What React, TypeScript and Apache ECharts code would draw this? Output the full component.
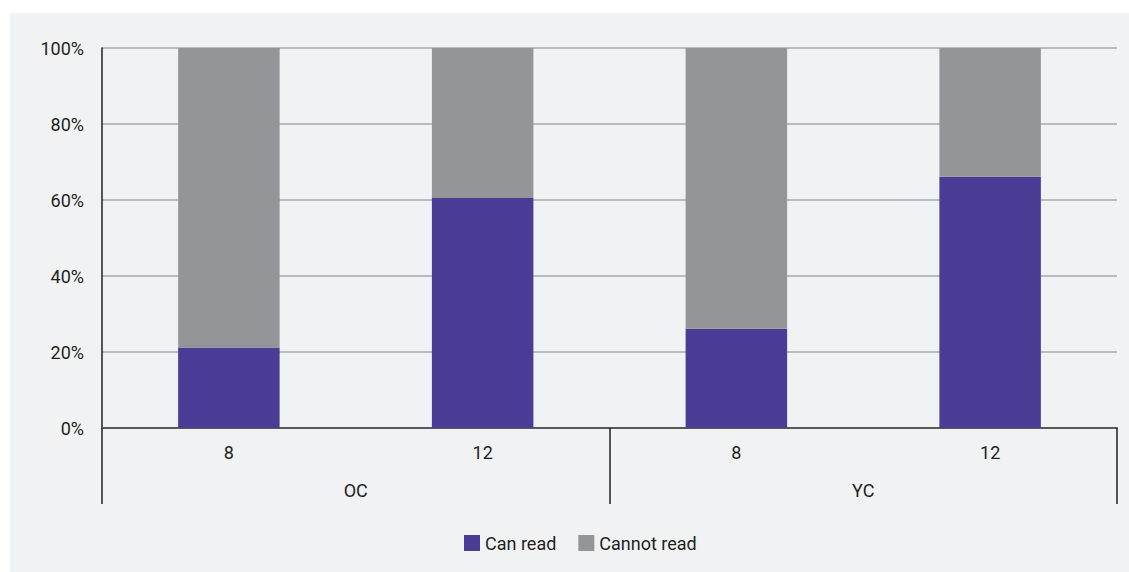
import React, { useEffect, useRef } from "react";
import * as echarts from "echarts";

const ageLabels = ["8", "12", "8", "12"];
const groupLabels = ["OC", "YC"];
const canRead = [21.2, 60.5, 26.1, 66.1];
const cannotRead = [78.8, 39.5, 73.9, 33.9];
const yTicks = [0, 20, 40, 60, 80, 100];

const FONT = "Roboto, 'Liberation Sans', sans-serif";

export default function App() {
  const ref = useRef<HTMLDivElement>(null);
  useEffect(() => {
    if (!ref.current) return;
    const chart = echarts.init(ref.current, undefined, { renderer: "svg" });
    chart.setOption({
      animation: false,
      backgroundColor: "#ffffff",
      graphic: [
        {
          type: "rect",
          z: -10,
          silent: true,
          shape: { x: 10, y: 13, width: 1119, height: 559 },
          style: { fill: "#f1f2f4" },
        },
      ],
      textStyle: { fontFamily: FONT },
      grid: { left: 102, top: 48, right: 12, bottom: 144 },
      legend: {
        left: 459,
        top: 529,
        itemWidth: 16,
        itemHeight: 16,
        itemGap: 22,
        icon: "rect",
        textStyle: { fontFamily: FONT, fontSize: 18, color: "#231f20" },
        data: ["Can read", "Cannot read"],
      },
      xAxis: [
        {
          type: "category",
          data: ageLabels,
          position: "bottom",
          axisLine: { show: true, lineStyle: { color: "#58595b", width: 2 } },
          axisTick: { show: false },
          axisLabel: { margin: 15, fontSize: 18, color: "#231f20", fontFamily: FONT },
        },
        {
          type: "category",
          data: groupLabels,
          position: "bottom",
          offset: 0,
          axisLine: { show: false },
          axisTick: { show: true, length: 76, lineStyle: { color: "#231f20", width: 1.5 } },
          axisLabel: { margin: 53, fontSize: 18, color: "#231f20", fontFamily: FONT },
        },
      ],
      yAxis: {
        type: "value",
        min: yTicks[0],
        max: yTicks[yTicks.length - 1],
        interval: 20,
        axisLine: { show: true, lineStyle: { color: "#231f20", width: 1.5 } },
        axisTick: { show: false },
        axisLabel: {
          margin: 18,
          fontSize: 18,
          color: "#231f20",
          fontFamily: FONT,
          formatter: "{value}%",
        },
        splitLine: { show: true, lineStyle: { color: "#a7a9ac", width: 1.5 } },
      },
      series: [
        {
          name: "Can read",
          type: "bar",
          stack: "total",
          xAxisIndex: 0,
          barWidth: "40%",
          itemStyle: { color: "#4b3c96" },
          data: canRead,
        },
        {
          name: "Cannot read",
          type: "bar",
          stack: "total",
          xAxisIndex: 0,
          barWidth: "40%",
          itemStyle: { color: "#939598" },
          data: cannotRead,
        },
      ],
    });
    return () => chart.dispose();
  }, []);
  return (
    <div
      ref={ref}
      style={{ position: "fixed", left: 0, top: 0, width: 1129, height: 572 }}
    />
  );
}
